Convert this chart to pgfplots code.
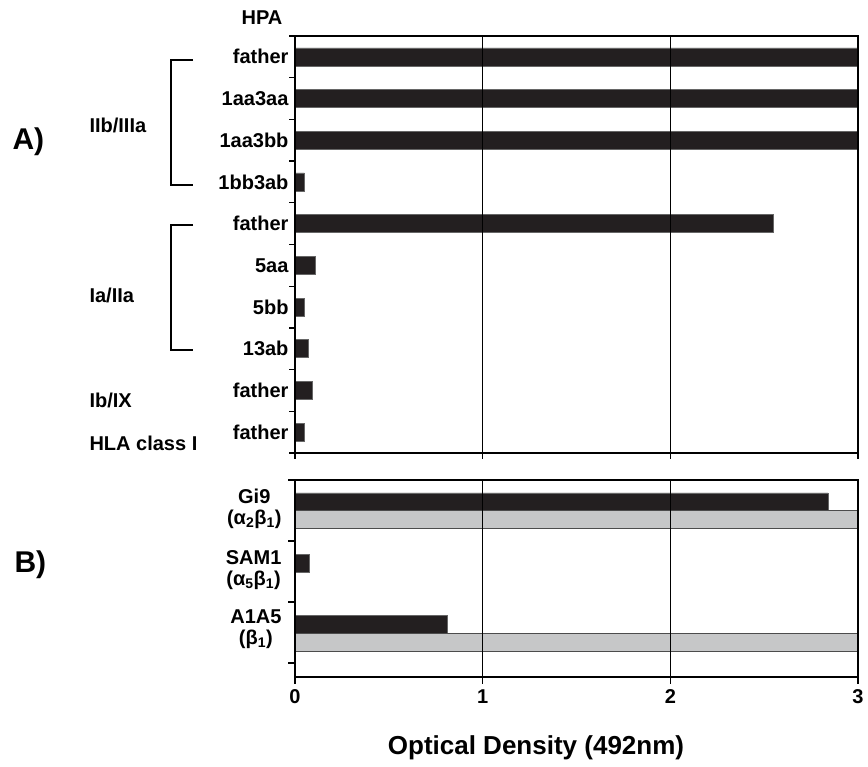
\documentclass[border=0pt]{standalone}
\usepackage{pgfplots}
\pgfplotsset{compat=1.18}
\usepackage{fontspec}
\setmainfont{Liberation Sans}
\definecolor{barblack}{HTML}{231F20}
\definecolor{bargray}{HTML}{C6C7C8}
\newcommand\lab{\fontsize{20}{21}\selectfont\bfseries}
\begin{document}
\begin{tikzpicture}[x=1pt,y=1pt]
\path[use as bounding box] (0,0) rectangle (868,767);
\pgfplotsset{every axis/.append style={
  scale only axis, width=563pt, xmin=0, xmax=3,
  xtick={0,1,2,3},
  axis line style={black, line width=1.3pt},
  tick style={black, line width=1.3pt},
  tick align=outside, xtick pos=bottom, ytick pos=left,
  y dir=reverse, axis on top,
  xbar, bar shift=0pt,
  tick label style={font=\lab},
}}
% Panel A
\begin{axis}[at={(295pt,314pt)}, anchor=south west, height=417pt,
  ymin=0, ymax=10, bar width=0.43,
  xticklabels={}, major tick length=6pt,
  ytick={0,1,2,3,4,5,6,7,8,9,10}, yticklabels={},
  extra y ticks={0.5,1.5,2.5,3.5,4.5,5.5,6.5,7.5,8.5,9.5},
  extra y tick labels={father,1aa3aa,1aa3bb,1bb3ab,father,5aa,5bb,13ab,father,father},
  extra y tick style={major tick length=0pt, yticklabel style={xshift=-3pt}},
]
\addplot[fill=barblack, draw=black!60, line width=0.6pt] coordinates {
(3.0,0.5) (3.0,1.5) (3.0,2.5) (0.05,3.5) (2.55,4.5)
(0.11,5.5) (0.05,6.5) (0.07,7.5) (0.09,8.5) (0.05,9.5)};
\draw[black, line width=1.6pt] (axis cs:1,0) -- (axis cs:1,10);
\draw[black, line width=1.6pt] (axis cs:2,0) -- (axis cs:2,10);
\end{axis}
% Panel B
\begin{axis}[at={(295pt,90pt)}, anchor=south west, height=197pt,
  ymin=0, ymax=3.23, bar width=0.29,
  xticklabels={0,1,2,3}, major tick length=7pt,
  xticklabel style={yshift=-2pt},
  ytick={0,1,2,3}, yticklabels={},
  extra y ticks={0.47,1.48,2.45},
  extra y tick labels={{Gi9\\(α\textsubscript{2}β\textsubscript{1})},{SAM1\\(α\textsubscript{5}β\textsubscript{1})},{A1A5\\(β\textsubscript{1})}},
  extra y tick style={major tick length=0pt, yticklabel style={align=center, xshift=-10pt}},
]
\addplot[fill=barblack, draw=black!60, line width=0.6pt] coordinates {
(2.84,0.355) (0.075,1.365) (0.81,2.37)};
\addplot[fill=bargray, draw=black!70, line width=0.8pt] coordinates {
(3.0,0.645) (0.0,1.655) (3.0,2.66)};
\draw[black, line width=1.6pt] (axis cs:1,0) -- (axis cs:1,3.23);
\draw[black, line width=1.6pt] (axis cs:2,0) -- (axis cs:2,3.23);
\end{axis}
% annotations
\node[font=\lab] at (262,749) {HPA};
\node[font=\fontsize{30}{31}\selectfont\bfseries, anchor=west] at (9,625) {A)};
\node[font=\fontsize{30}{31}\selectfont\bfseries, anchor=west] at (11,202) {B)};
\node[font=\lab, anchor=west] at (86,642) {IIb/IIIa};
\node[font=\lab, anchor=west] at (86,472) {Ia/IIa};
\node[font=\lab, anchor=west] at (86,367) {Ib/IX};
\node[font=\lab, anchor=west] at (86,324) {HLA class I};
\draw[line width=1.3pt] (193,707) -- (171,707) -- (171,582) -- (193,582);
\draw[line width=1.3pt] (193,542) -- (171,542) -- (171,417) -- (193,417);
\node[font=\fontsize{26}{27}\selectfont\bfseries] at (536,19) {Optical Density (492nm)};
\end{tikzpicture}
\end{document}
